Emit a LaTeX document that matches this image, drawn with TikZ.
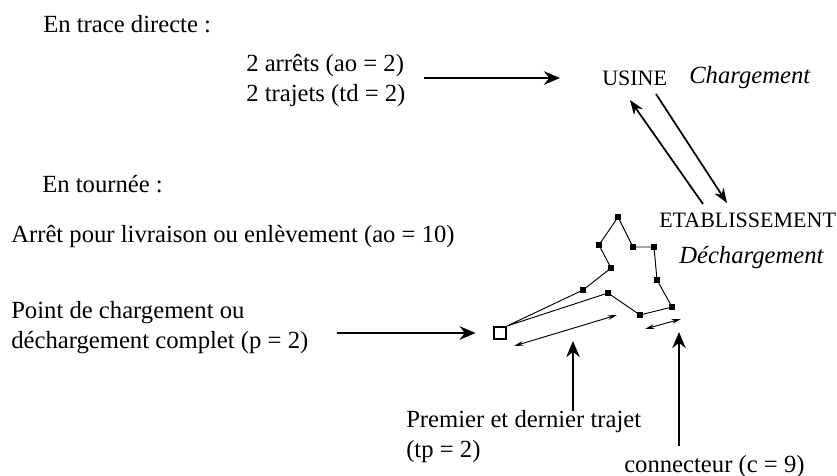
\documentclass[tikz,border=0pt]{standalone}
\usepackage{fontspec}
\setmainfont{Liberation Serif}
\usetikzlibrary{arrows.meta, positioning}

\begin{document}
\begin{tikzpicture}[x=0.75pt, y=-0.75pt, >=Stealth,
  every node/.style={font=\fontsize{18.5}{22.5}\selectfont, inner sep=0pt},
  txt/.style={anchor=west, align=left},
  caps/.style={font=\fontsize{16.5}{22.5}\selectfont},
  ital/.style={font=\fontsize{18.5}{22.5}\selectfont\itshape},
  bigarrow/.style={line width=2pt, -{Stealth[length=12pt,width=10pt]}},
  midarrow/.style={line width=1.3pt, -{Stealth[length=11pt,width=8pt]}},
  thinarrow/.style={line width=0.7pt, {Stealth[length=7pt,width=3.5pt]}-{Stealth[length=7pt,width=3.5pt]}},
  stop/.style={draw, fill=black, minimum size=4pt, inner sep=0pt},
  depot/.style={draw, line width=1.5pt, minimum size=9pt, inner sep=0pt}]
  \useasboundingbox (0,0) rectangle (837,475);

  % Trace directe
  \node[txt] (titre1) at (43,24) {En trace directe :};
  \node[txt] (direct) at (246,81) {2 arrêts (ao = 2)\\2 trajets (td = 2)};
  \node[txt, caps] (usine) at (602,78) {USINE};
  \node[txt, ital] (charg) at (689,78) {Chargement};
  \node[txt, caps] (etab) at (659,220) {ETABLISSEMENT};
  \node[txt, ital] (decharg) at (679,258) {Déchargement};

  \draw[bigarrow, shorten <=14pt, shorten >=31.5pt] (direct.east |- usine) -- (usine.west);
  \coordinate (usineA) at (630,100);
  \coordinate (usineB) at (656,94);
  \coordinate (etabA) at (703,204);
  \coordinate (etabB) at (727,203);
  \draw[midarrow] (etabA) -- (usineA);
  \draw[midarrow] (usineB) -- (etabB);

  % Tournee
  \node[txt] (titre2) at (42,184) {En tournée :};
  \node[txt] (arret) at (11,237) {Arrêt pour livraison ou enlèvement (ao = 10)};
  \node[txt] (point) at (11,328) {Point de chargement ou\\déchargement complet (p = 2)};
  \node[txt] (tplbl) at (406,437) {Premier et dernier trajet\\(tp = 2)};
  \node[txt] (clbl) at (624,467) {connecteur (c = 9)};

  \node[depot] (depot) at (500,333) {};
  \foreach \n/\x/\y in {1/583/290, 2/611/268, 3/599/245, 4/618/217, 5/633/247,
                        6/654/247, 7/657/280, 8/672/307, 9/640/315, 10/608/293}
    \node[stop] (s\n) at (\x,\y) {};
  \draw[line width=0.7pt] (depot.north east) -- (s1.center) -- (s2.center)
    -- (s3.center) -- (s4.center) -- (s5.center) -- (s6.center) -- (s7.center)
    -- (s8.center) -- (s9.center) -- (s10.center) -- (depot.north east);

  \draw[bigarrow, shorten <=21pt, shorten >=13pt] (point.east |- depot) -- (depot.west);

  % Trajets et connecteurs
  \coordinate (tpA) at (514,346);
  \coordinate (tpB) at (617,315);
  \coordinate (cA) at (645,329);
  \coordinate (cB) at (681,319);
  \draw[thinarrow] (tpA) -- (tpB);
  \draw[thinarrow] (cA) -- (cB);
  \coordinate (tpup) at (573,341);
  \coordinate (cup) at (679,332);
  \draw[bigarrow] (tplbl.north -| tpup) -- (tpup);
  \draw[bigarrow, shorten <=7pt] (clbl.north -| cup) -- (cup);
\end{tikzpicture}
\end{document}
